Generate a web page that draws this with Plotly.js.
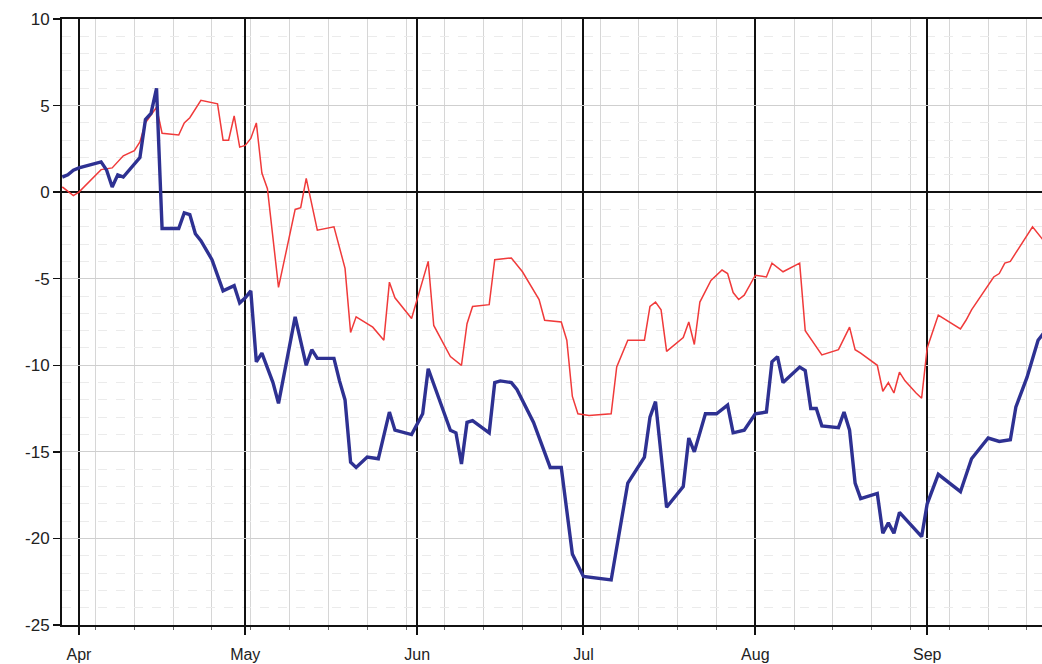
<!DOCTYPE html>
<html>
<head>
<meta charset="utf-8">
<script src="https://cdn.plot.ly/plotly-3.0.1.min.js"></script>
<style>html,body{margin:0;padding:0;background:#fff;}#chart{width:1042px;height:664px;}</style>
</head>
<body>
<div id="chart"></div>
<script>
// Blue series (thick)
const blueDates = ["2011-03-29","2011-03-30","2011-03-31","2011-04-01","2011-04-05","2011-04-06","2011-04-07","2011-04-08","2011-04-09","2011-04-12","2011-04-13","2011-04-14","2011-04-15","2011-04-16","2011-04-19","2011-04-20","2011-04-21","2011-04-22","2011-04-23","2011-04-25","2011-04-27","2011-04-29","2011-04-30","2011-05-01","2011-05-02","2011-05-03","2011-05-04","2011-05-06","2011-05-07","2011-05-10","2011-05-12","2011-05-13","2011-05-14","2011-05-17","2011-05-18","2011-05-19","2011-05-20","2011-05-21","2011-05-23","2011-05-25","2011-05-27","2011-05-28","2011-05-31","2011-06-02","2011-06-03","2011-06-07","2011-06-08","2011-06-09","2011-06-10","2011-06-11","2011-06-14","2011-06-15","2011-06-16","2011-06-18","2011-06-19","2011-06-22","2011-06-25","2011-06-27","2011-06-29","2011-07-01","2011-07-06","2011-07-09","2011-07-12","2011-07-13","2011-07-14","2011-07-16","2011-07-19","2011-07-20","2011-07-21","2011-07-23","2011-07-25","2011-07-27","2011-07-28","2011-07-30","2011-08-01","2011-08-03","2011-08-04","2011-08-05","2011-08-06","2011-08-09","2011-08-10","2011-08-11","2011-08-12","2011-08-13","2011-08-16","2011-08-17","2011-08-18","2011-08-19","2011-08-20","2011-08-23","2011-08-24","2011-08-25","2011-08-26","2011-08-27","2011-08-31","2011-09-01","2011-09-03","2011-09-07","2011-09-09","2011-09-12","2011-09-14","2011-09-16","2011-09-17","2011-09-19","2011-09-21","2011-09-22"];
const blueValues = [0.87,1.0,1.27,1.4,1.75,1.27,0.3,1.0,0.87,2.0,4.2,4.55,6.0,-2.1,-2.1,-1.2,-1.3,-2.4,-2.8,-3.9,-5.7,-5.4,-6.4,-6.1,-5.7,-9.8,-9.3,-11.0,-12.2,-7.2,-10.0,-9.1,-9.6,-9.6,-10.9,-12.0,-15.6,-15.9,-15.3,-15.4,-12.7,-13.75,-14.0,-12.8,-10.2,-13.75,-13.9,-15.7,-13.3,-13.2,-13.9,-11.0,-10.9,-11.0,-11.4,-13.3,-15.9,-15.9,-20.9,-22.2,-22.4,-16.8,-15.3,-13.0,-12.1,-18.2,-17.0,-14.2,-15.0,-12.8,-12.8,-12.3,-13.9,-13.75,-12.8,-12.7,-9.8,-9.5,-11.0,-10.1,-10.3,-12.5,-12.5,-13.5,-13.6,-12.7,-13.75,-16.8,-17.7,-17.4,-19.7,-19.1,-19.7,-18.5,-19.9,-18.0,-16.3,-17.3,-15.4,-14.2,-14.4,-14.3,-12.4,-10.7,-8.55,-8.15];

// Red series (thin)
const redDates = ["2011-03-29","2011-03-31","2011-04-01","2011-04-05","2011-04-07","2011-04-09","2011-04-11","2011-04-12","2011-04-13","2011-04-15","2011-04-16","2011-04-19","2011-04-20","2011-04-21","2011-04-23","2011-04-26","2011-04-27","2011-04-28","2011-04-29","2011-04-30","2011-05-01","2011-05-02","2011-05-03","2011-05-04","2011-05-05","2011-05-06","2011-05-07","2011-05-08","2011-05-10","2011-05-11","2011-05-12","2011-05-14","2011-05-17","2011-05-19","2011-05-20","2011-05-21","2011-05-24","2011-05-26","2011-05-27","2011-05-28","2011-05-31","2011-06-03","2011-06-04","2011-06-07","2011-06-09","2011-06-10","2011-06-11","2011-06-14","2011-06-15","2011-06-18","2011-06-20","2011-06-23","2011-06-24","2011-06-27","2011-06-28","2011-06-29","2011-06-30","2011-07-02","2011-07-06","2011-07-07","2011-07-09","2011-07-12","2011-07-13","2011-07-14","2011-07-15","2011-07-16","2011-07-19","2011-07-20","2011-07-21","2011-07-22","2011-07-23","2011-07-24","2011-07-26","2011-07-27","2011-07-28","2011-07-29","2011-07-30","2011-08-01","2011-08-03","2011-08-04","2011-08-06","2011-08-09","2011-08-10","2011-08-13","2011-08-16","2011-08-18","2011-08-19","2011-08-20","2011-08-23","2011-08-24","2011-08-25","2011-08-26","2011-08-27","2011-08-28","2011-08-30","2011-08-31","2011-09-01","2011-09-03","2011-09-07","2011-09-08","2011-09-09","2011-09-13","2011-09-14","2011-09-15","2011-09-16","2011-09-20","2011-09-22"];
const redValues = [0.3,-0.2,0.0,1.3,1.4,2.1,2.4,2.9,4.0,4.9,3.4,3.3,4.0,4.3,5.3,5.1,3.0,3.0,4.4,2.6,2.7,3.1,4.0,1.1,0.2,-2.8,-5.5,-4.0,-1.0,-0.9,0.8,-2.2,-2.0,-4.4,-8.1,-7.2,-7.8,-8.55,-5.2,-6.1,-7.3,-4.0,-7.7,-9.5,-10.0,-7.6,-6.6,-6.5,-3.9,-3.8,-4.6,-6.2,-7.4,-7.5,-8.55,-11.8,-12.8,-12.9,-12.8,-10.1,-8.55,-8.55,-6.6,-6.35,-6.8,-9.2,-8.4,-7.5,-8.8,-6.35,-5.7,-5.1,-4.5,-4.7,-5.8,-6.2,-5.95,-4.8,-4.9,-4.1,-4.6,-4.1,-8.0,-9.4,-9.1,-7.8,-9.1,-9.3,-10.0,-11.5,-11.0,-11.6,-10.4,-10.9,-11.6,-11.9,-9.0,-7.1,-7.9,-7.4,-6.8,-4.9,-4.7,-4.1,-4.0,-2.0,-2.8];

// Axis ticks
const yTickVals = [-25,-20,-15,-10,-5,0,5,10];
const yTickText = ["-25","-20","-15","-10","-5","0","5","10"];
const xRange = ["2011-03-28 22:45","2011-09-21 17:00"];

const traces = [
  {x: redDates, y: redValues, type: 'scatter', mode: 'lines',
   line: {color: '#f03a3a', width: 1.5}, hoverinfo: 'skip'},
  {x: blueDates, y: blueValues, type: 'scatter', mode: 'lines',
   line: {color: '#2e3192', width: 3.4}, hoverinfo: 'skip'}
];

const layout = {
  width: 1042, height: 664,
  margin: {l: 62, r: 0, t: 19, b: 39, pad: 0},
  paper_bgcolor: '#ffffff', plot_bgcolor: '#ffffff',
  showlegend: false,
  font: {family: 'Liberation Sans, Arial, sans-serif', size: 16, color: '#222'},
  xaxis: {
    type: 'date', range: xRange,
    dtick: 'M1', tick0: '2011-04-01', tickformat: '%b',
    showgrid: true, gridcolor: '#111', gridwidth: 2,
    ticks: 'outside', ticklen: 8, tickcolor: '#111', tickwidth: 2,
    ticklabelstandoff: 6,
    showline: true, linecolor: '#111', linewidth: 2, mirror: true,
    zeroline: false,
    tickfont: {size: 16, color: '#222'},
    minor: {dtick: 7*24*3600*1000, tick0: '2011-04-04', showgrid: true,
            gridcolor: '#d6d6d6', gridwidth: 1, ticks: 'outside', ticklen: 3,
            tickcolor: '#666', tickwidth: 1}
  },
  yaxis: {
    range: [-25, 10], tickvals: yTickVals, ticktext: yTickText,
    showgrid: true, gridcolor: '#cfcfcf', gridwidth: 1,
    zeroline: true, zerolinecolor: '#111', zerolinewidth: 2,
    ticks: 'outside', ticklen: 7, tickcolor: '#111', tickwidth: 1.5,
    showline: true, linecolor: '#111', linewidth: 2,
    tickfont: {size: 17, color: '#222'},
    minor: {dtick: 1, showgrid: true, gridcolor: '#ebebeb', gridwidth: 1, griddash: 'dash'}
  }
};

Plotly.newPlot('chart', traces, layout, {staticPlot: true, displayModeBar: false});
</script>
</body>
</html>
